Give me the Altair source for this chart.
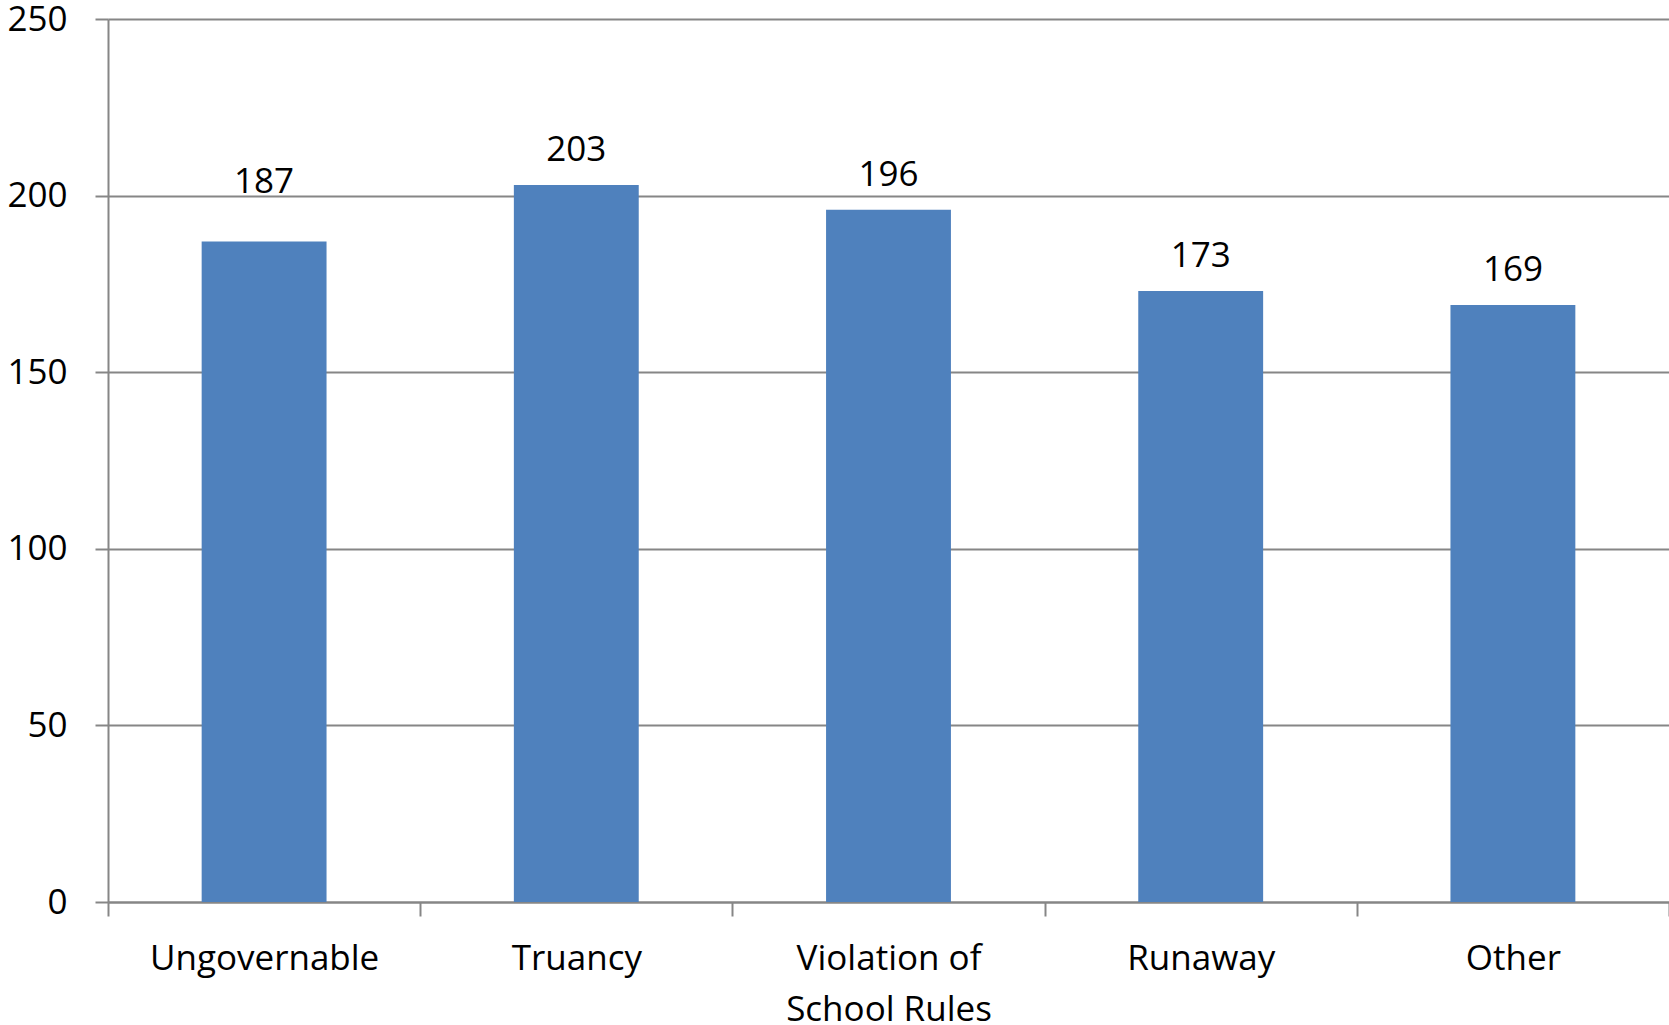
import altair as alt
import pandas as pd

# Status offense categories and case counts
categories = ["Ungovernable", "Truancy", "Violation of School Rules", "Runaway", "Other"]
counts = [187, 203, 196, 173, 169]
y_ticks = [0, 50, 100, 150, 200, 250]

df = pd.DataFrame({"category": categories, "count": counts})

FONT = "Open Sans"
GRAY = "#868686"
BLUE = "#4F81BD"

x_enc = alt.X(
    "category:N",
    sort=categories,
    title=None,
    scale=alt.Scale(paddingInner=0, paddingOuter=0),
    axis=alt.Axis(
        labelAngle=0,
        labelFont=FONT,
        labelFontSize=35,
        labelColor="#000000",
        labelPadding=25,
        labelLimit=0,
        labelLineHeight=51,
        labelExpr="datum.value == 'Violation of School Rules' ? ['Violation of', 'School Rules'] : datum.value",
        tickBand="extent",
        tickSize=14,
        tickColor=GRAY,
        tickWidth=2,
        domainColor=GRAY,
        domainWidth=2,
        grid=False,
    ),
)

y_enc = alt.Y(
    "count:Q",
    title=None,
    scale=alt.Scale(domain=[0, 250], nice=False),
    axis=alt.Axis(
        values=y_ticks,
        labelFont=FONT,
        labelFontSize=35,
        labelColor="#000000",
        labelPadding=28,
        tickSize=13,
        tickColor=GRAY,
        tickWidth=2,
        domainColor=GRAY,
        domainWidth=2,
        grid=True,
        gridColor=GRAY,
        gridWidth=2,
    ),
)

bars = alt.Chart(df).mark_bar(color=BLUE, width=alt.RelativeBandSize(0.4)).encode(
    x=x_enc, y=y_enc
)

label_enc = dict(
    x=alt.X("category:N", sort=categories), y="count:Q", text="count:Q"
)
text_style = dict(font=FONT, fontSize=35, color="#000000", baseline="alphabetic")

# Value labels above bars; the first one sits a little higher, on the 200 gridline
labels = (
    alt.Chart(df)
    .mark_text(dy=-24, **text_style)
    .encode(**label_enc)
    .transform_filter(alt.datum.category != categories[0])
)
first_label = (
    alt.Chart(df)
    .mark_text(dy=-49, **text_style)
    .encode(**label_enc)
    .transform_filter(alt.datum.category == categories[0])
)

chart = (
    alt.layer(bars, labels, first_label)
    .properties(
        width=1561,
        height=883,
        autosize=alt.AutoSizeParams(type="none"),
        padding={"left": 108, "top": 19, "right": 0, "bottom": 123},
        background="#ffffff",
    )
    .configure_view(stroke=None)
)

chart.save("out.html", embed_options={"renderer": "svg", "actions": False})
